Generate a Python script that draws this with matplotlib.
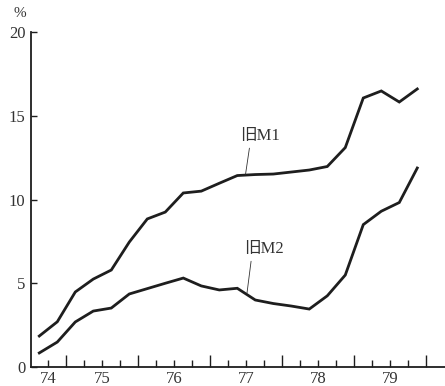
import matplotlib
matplotlib.use("Agg")
import matplotlib.pyplot as plt
from matplotlib.ticker import FixedLocator

plt.rcParams['font.family'] = ['Liberation Serif', 'Noto Sans CJK SC']

# quarterly points (mid-quarter), 1974 Q3 .. 1979 Q4
quarters = [1974.625, 1974.875, 1975.125, 1975.375, 1975.625, 1975.875,
            1976.125, 1976.375, 1976.625, 1976.875, 1977.125, 1977.375,
            1977.625, 1977.875, 1978.125, 1978.375, 1978.625, 1978.875,
            1979.125, 1979.375, 1979.625, 1979.875]
old_m1 = [1.85, 2.7, 4.48, 5.25, 5.79, 7.46, 8.84, 9.25, 10.39, 10.5, 10.97,
          11.43, 11.49, 11.52, 11.64, 11.76, 11.97, 13.1, 16.06, 16.48, 15.82, 16.6]
old_m2 = [0.84, 1.49, 2.69, 3.34, 3.52, 4.36, 4.68, 5.0, 5.31, 4.84, 4.6,
          4.7, 4.0, 3.79, 3.64, 3.46, 4.25, 5.49, 8.5, 9.3, 9.82, 11.88]

year_labels = ['74', '75', '76', '77', '78', '79']
year_label_pos = [1974.75, 1975.5, 1976.5, 1977.5, 1978.5, 1979.5]
year_ticks = [1975, 1976, 1977, 1978, 1979, 1980]
quarter_ticks = [1974.75, 1975.25, 1975.5, 1975.75, 1976.25, 1976.5, 1976.75,
                 1977.25, 1977.5, 1977.75, 1978.25, 1978.5, 1978.75,
                 1979.25, 1979.5, 1979.75]

fig = plt.figure(figsize=(4.45, 3.86), dpi=100)
ax = fig.add_axes([0.0697, 0.0492, 0.9303, 0.8679])

ax.plot(quarters, old_m1, color='#1e1e1e', lw=2.0, solid_joinstyle='miter')
ax.plot(quarters, old_m2, color='#1e1e1e', lw=2.0, solid_joinstyle='miter')

ax.set_xlim(1974.51, 1980.26)
ax.set_ylim(0, 20)

ax.spines['top'].set_visible(False)
ax.spines['right'].set_visible(False)
for s in ('left', 'bottom'):
    ax.spines[s].set_linewidth(1.3)
    ax.spines[s].set_color('#1e1e1e')

ax.set_yticks([0, 5, 10, 15, 20])
ax.set_yticklabels(['0', '5', '10', '15', '20'], fontsize=12, color='#333333')
ax.tick_params(axis='y', direction='in', length=4, width=1, pad=4, colors='#1e1e1e',
               labelcolor='#333333')

ax.xaxis.set_major_locator(FixedLocator(year_ticks))
ax.xaxis.set_minor_locator(FixedLocator(quarter_ticks))
ax.set_xticklabels([])
ax.tick_params(axis='x', which='major', direction='in', length=9, width=1, colors='#1e1e1e')
ax.tick_params(axis='x', which='minor', direction='in', length=5, width=1, colors='#1e1e1e')
for pos, lab in zip(year_label_pos, year_labels):
    ax.text(pos, -0.012, lab, transform=ax.get_xaxis_transform(), ha='center', va='top',
            fontsize=12, color='#333333')

fig.text(0.045, 0.965, '%', ha='center', va='center', fontsize=11, color='#333333')

ax.annotate('旧M1', xy=(1977.49, 11.52), xytext=(1977.69, 13.79), ha='center', va='center',
            fontsize=12, color='#333333',
            arrowprops=dict(arrowstyle='-', lw=0.6, color='#333333', relpos=(0.25, 0),
                            shrinkA=1, shrinkB=0))
ax.annotate('旧M2', xy=(1977.51, 4.42), xytext=(1977.75, 7.04), ha='center', va='center',
            fontsize=12, color='#333333',
            arrowprops=dict(arrowstyle='-', lw=0.6, color='#333333', relpos=(0.18, 0),
                            shrinkA=1, shrinkB=0))

fig.savefig('out.png', dpi=100)
